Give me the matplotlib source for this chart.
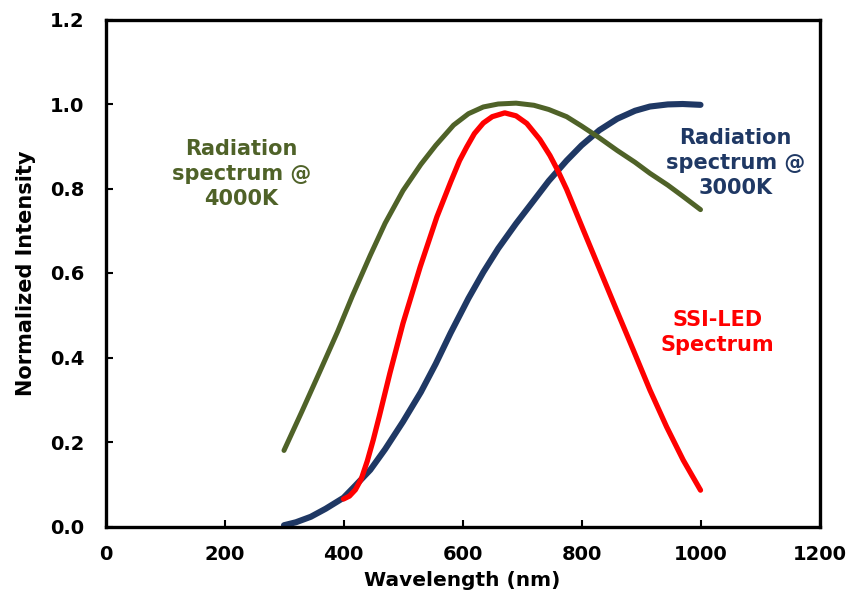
import numpy as np
import matplotlib.pyplot as plt

plt.rcParams['font.family'] = ['DejaVu Sans']
plt.rcParams['font.weight'] = 'bold'
plt.rcParams['axes.labelweight'] = 'bold'

# blackbody spectrum, 4000 K (normalized)
wl_4000 = [300, 330, 360, 390, 415, 445, 470, 500, 530, 555, 585, 610, 635, 660,
           690, 720, 745, 775, 800, 830, 860, 890, 915, 945, 970, 1000]
i_4000 = [0.18, 0.272, 0.366, 0.461, 0.546, 0.642, 0.718, 0.795, 0.857, 0.902, 0.95, 0.977, 0.993, 1.0,
          1.002, 0.997, 0.987, 0.97, 0.948, 0.92, 0.89, 0.862, 0.836, 0.808, 0.782, 0.75]

# blackbody spectrum, 3000 K (normalized)
wl_3000 = [300, 320, 345, 370, 400, 420, 445, 470, 500, 530, 555, 580, 610, 635, 660,
           690, 720, 745, 775, 800, 830, 860, 890, 915, 945, 970, 1000]
i_3000 = [0.003, 0.01, 0.023, 0.042, 0.068, 0.097, 0.134, 0.183, 0.248, 0.318, 0.385, 0.458, 0.54, 0.602, 0.658,
          0.717, 0.772, 0.818, 0.866, 0.902, 0.938, 0.965, 0.984, 0.994, 0.999, 1.0, 0.998]

# SSI-LED emission spectrum
wl_led = [400, 410, 420, 430, 440, 450, 460, 478, 500, 529, 557, 580, 595, 607, 620, 635, 650, 671, 690, 708,
          730, 747, 760, 775, 803, 831, 859, 887, 915, 943, 971, 1000]
i_led = [0.065, 0.072, 0.087, 0.113, 0.155, 0.205, 0.26, 0.363, 0.481, 0.615, 0.733, 0.815, 0.866, 0.898, 0.93, 0.955, 0.97, 0.979, 0.972, 0.954,
         0.916, 0.878, 0.843, 0.798, 0.702, 0.607, 0.512, 0.418, 0.323, 0.236, 0.157, 0.086]

green = '#4F6228'
navy = '#1F3864'
red = '#FF0000'

fig = plt.figure(figsize=(8.5, 6.08), dpi=100)
ax = fig.add_axes([105.5 / 850, 1 - 526.5 / 608, 714 / 850, 507 / 608])

ax.plot(wl_3000, i_3000, color=navy, lw=4.4, solid_capstyle='round', solid_joinstyle='round')
ax.plot(wl_4000, i_4000, color=green, lw=3.6, solid_capstyle='round', solid_joinstyle='round')
ax.plot(wl_led, i_led, color=red, lw=3.8, solid_capstyle='round', solid_joinstyle='round')

ax.set_xlim(0, 1200)
ax.set_ylim(0, 1.2)
ax.set_xticks(np.arange(0, 1201, 200))
ax.set_yticks(np.arange(0, 1.21, 0.2))
ax.set_yticklabels(['%.1f' % v for v in np.arange(0, 1.21, 0.2)])
ax.tick_params(direction='in', length=5, width=1.5, labelsize=14)
ax.tick_params(axis='y', pad=15)
ax.tick_params(axis='x', pad=13)
for s in ax.spines.values():
    s.set_linewidth(2.4)

ax.set_xlabel('Wavelength (nm)', fontsize=14.5, labelpad=5)
ax.set_ylabel('Normalized Intensity', fontsize=15, labelpad=10)

ax.text(228, 0.834, 'Radiation\nspectrum @\n4000K', color=green, fontsize=15,
        ha='center', va='center', linespacing=1.3)
ax.text(1059, 0.860, 'Radiation\nspectrum @\n3000K', color=navy, fontsize=15,
        ha='center', va='center', linespacing=1.3)
ax.text(1029, 0.46, 'SSI-LED\nSpectrum', color=red, fontsize=15,
        ha='center', va='center', linespacing=1.3)

fig.savefig('out.png', dpi=100)
